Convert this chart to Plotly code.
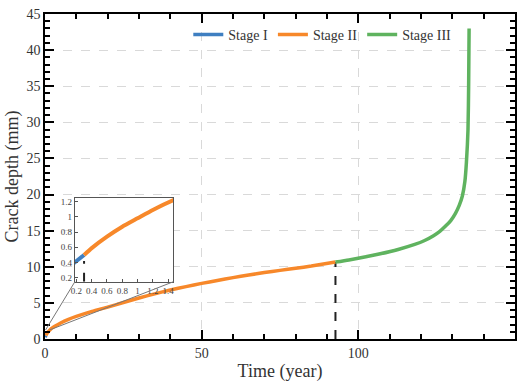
import plotly.graph_objects as go

# ---- data ----
stage1_t = [0.0, 0.1, 0.2, 0.3]
stage1_d = [0.26, 0.34, 0.42, 0.50]

stage2_t = [0.3, 0.4, 0.6, 0.8, 1.0, 1.2, 1.47, 2.0, 3.0, 5.0, 7.5, 10, 15, 20, 25, 30, 35, 40, 45, 50,
            55, 60, 65, 70, 75, 80, 85, 92.7]
stage2_d = [0.50, 0.59, 0.74, 0.87, 0.98, 1.09, 1.22, 1.42, 1.72, 2.22, 2.72, 3.12, 3.82, 4.42, 5.05, 5.68,
            6.25, 6.78, 7.25, 7.70, 8.10, 8.50, 8.85, 9.20, 9.50, 9.80, 10.10, 10.65]

stage3_t = [92.7, 97, 102, 107, 112.7, 118, 121, 124, 126, 128, 129.5, 131, 132.2, 133.2, 134, 134.5,
            135.0, 135.2, 135.35]
stage3_d = [10.65, 10.95, 11.35, 11.8, 12.4, 13.1, 13.6, 14.3, 14.9, 15.7, 16.4, 17.4, 18.5, 19.8, 21.8, 24.5,
            29.0, 35.0, 43.0]

transition_t = 92.7
transition_d = 10.65
inset_transition_t = 0.3
inset_transition_d = 0.42

main_xrange = [0, 150]
main_yrange = [0, 45]
inset_xrange = [0.18, 1.47]
inset_yrange = [0.15, 1.25]

# ---- styles ----
BLUE = "#3f7fc1"
ORANGE = "#f7882a"
GREEN = "#5fb35f"
FONT = "Liberation Serif"
TICKC = "black"

fig = go.Figure()

fig.add_trace(go.Scatter(x=[transition_t, transition_t], y=[0, transition_d], mode="lines",
                         line=dict(color="#222", width=2, dash="dash"), showlegend=False, hoverinfo="skip"))
fig.add_trace(go.Scatter(x=stage1_t, y=stage1_d, mode="lines", name="Stage I",
                         line=dict(color=BLUE, width=3.5)))
fig.add_trace(go.Scatter(x=stage2_t, y=stage2_d, mode="lines", name="Stage II",
                         line=dict(color=ORANGE, width=3.5, shape="spline", smoothing=0.5)))
fig.add_trace(go.Scatter(x=stage3_t, y=stage3_d, mode="lines", name="Stage III",
                         line=dict(color=GREEN, width=3.5, shape="spline", smoothing=0.6)))

# invisible trace carrying the mirror-tick helper axes (top/right)
fig.add_trace(go.Scatter(x=stage3_t, y=stage3_d, mode="markers", marker=dict(opacity=0, size=1),
                         showlegend=False, hoverinfo="skip", xaxis="x3", yaxis="y3"))

# inset traces
fig.add_trace(go.Scatter(x=[inset_transition_t, inset_transition_t], y=[inset_yrange[0], inset_transition_d],
                         mode="lines", line=dict(color="#222", width=2, dash="dash"),
                         showlegend=False, xaxis="x2", yaxis="y2", hoverinfo="skip"))
fig.add_trace(go.Scatter(x=stage1_t, y=stage1_d, mode="lines", line=dict(color=BLUE, width=4),
                         showlegend=False, xaxis="x2", yaxis="y2"))
fig.add_trace(go.Scatter(x=stage2_t, y=stage2_d, mode="lines",
                         line=dict(color=ORANGE, width=4, shape="spline", smoothing=0.5),
                         showlegend=False, xaxis="x2", yaxis="y2"))

ix_dom = [0.0636, 0.2733]
iy_dom = [0.1763, 0.4347]

def to_paper(x, y):
    return ((x - main_xrange[0]) / (main_xrange[1] - main_xrange[0]),
            (y - main_yrange[0]) / (main_yrange[1] - main_yrange[0]))

p_left = to_paper(inset_xrange[0], inset_yrange[1])
p_right = to_paper(inset_xrange[1], inset_yrange[1])
shapes = [
    dict(type="line", xref="paper", yref="paper", x0=ix_dom[0], y0=iy_dom[0], x1=p_left[0], y1=p_left[1],
         line=dict(color="#777", width=1)),
    dict(type="line", xref="paper", yref="paper", x0=ix_dom[1], y0=iy_dom[0], x1=p_right[0], y1=p_right[1],
         line=dict(color="#777", width=1)),
]

tickfont = dict(family=FONT, size=14, color="#333")

minor_x = dict(dtick=10, ticklen=5, ticks="inside", tickcolor=TICKC, showgrid=False)
minor_y = dict(dtick=1, ticklen=5, ticks="inside", tickcolor=TICKC, showgrid=False)

fig.update_layout(
    width=524, height=385,
    margin=dict(l=45, r=7, t=13, b=43),
    paper_bgcolor="white", plot_bgcolor="white",
    font=dict(family=FONT, color="#333"),
    shapes=shapes,
    legend=dict(orientation="h", x=0.59, xanchor="center", y=0.985, yanchor="top",
                font=dict(family=FONT, size=14, color="#333"), bgcolor="rgba(255,255,255,0)",
                itemwidth=30, tracegroupgap=0),
    xaxis=dict(range=main_xrange, tickvals=[0, 50, 100, 150], showgrid=True, minor=minor_x,
               showline=True, linecolor=TICKC, linewidth=1.5, mirror=True,
               ticks="inside", tickcolor=TICKC, ticklen=9, tickwidth=2, zeroline=False, tickfont=tickfont,
               gridcolor="#d9d9d9", griddash="dash",
               title=dict(text="Time (year)", font=dict(family=FONT, size=18, color="#333"), standoff=5)),
    yaxis=dict(range=main_yrange, dtick=5, showgrid=True, minor=minor_y,
               showline=True, linecolor=TICKC, linewidth=1.5, mirror=True,
               ticks="inside", tickcolor=TICKC, ticklen=9, tickwidth=2, zeroline=False, tickfont=tickfont,
               gridcolor="#d9d9d9", griddash="dash",
               title=dict(text="Crack depth (mm)", font=dict(family=FONT, size=18, color="#333"), standoff=3)),
    xaxis3=dict(overlaying="x", side="top", anchor="y3", range=main_xrange, tickvals=[0, 50, 100, 150],
                minor=minor_x, showticklabels=False, showgrid=False, ticks="inside", ticklen=9,
                tickwidth=2, tickcolor=TICKC),
    yaxis3=dict(overlaying="y", side="right", anchor="x3", range=main_yrange, dtick=5,
                minor=minor_y, showticklabels=False, showgrid=False, ticks="inside", ticklen=9,
                tickwidth=2, tickcolor=TICKC),
    xaxis2=dict(domain=ix_dom, anchor="y2", range=inset_xrange, dtick=0.2, tick0=0.2,
                showline=True, linecolor="#555", linewidth=1, mirror=True, ticks="inside",
                ticklen=3, tickcolor="#555", showgrid=False, zeroline=False,
                tickfont=dict(family=FONT, size=9, color="#444")),
    yaxis2=dict(domain=iy_dom, anchor="x2", range=inset_yrange, dtick=0.2, tick0=0.2,
                showline=True, linecolor="#555", linewidth=1, mirror=True, ticks="inside",
                ticklen=3, tickcolor="#555", showgrid=False, zeroline=False,
                tickfont=dict(family=FONT, size=9, color="#444")),
)

fig.write_html("out.html")
